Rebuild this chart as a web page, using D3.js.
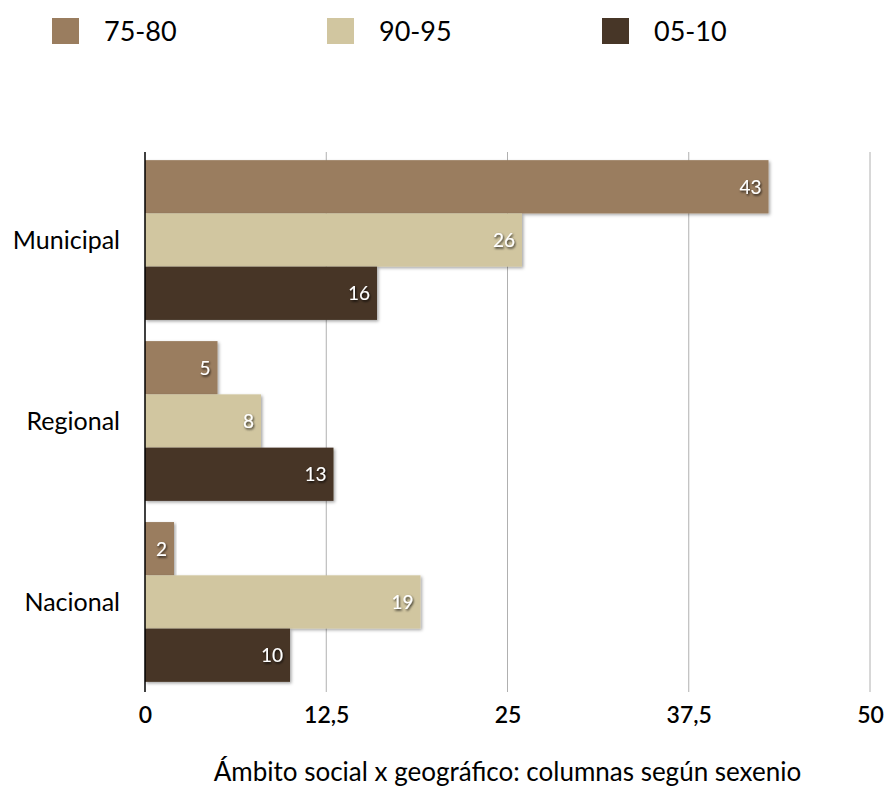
<!DOCTYPE html>
<html>
<head>
<meta charset="utf-8">
<script src="https://d3js.org/d3.v7.min.js"></script>
<style>
  body { margin: 0; background: #fff; }
  svg { display: block; font-family: "Lato", "Open Sans", sans-serif; }
</style>
</head>
<body>
<svg id="chart" width="888" height="786"></svg>
<script>
// Category rows, series keys and values
const categories = ["Municipal", "Regional", "Nacional"];
const seriesNames = ["75-80", "90-95", "05-10"];
const v7580 = [43, 5, 2];
const v9095 = [26, 8, 19];
const v0510 = [16, 13, 10];
const tickValues = [0, 12.5, 25, 37.5, 50];
const tickLabels = ["0", "12,5", "25", "37,5", "50"];
const axisTitle = "Ámbito social x geográfico: columnas según sexenio";
const colors = ["#9a7d5f", "#d1c6a0", "#473627"];

const seriesValues = [v7580, v9095, v0510];
const rows = categories.map((c, i) => ({
  category: c,
  values: seriesNames.map((s, j) => ({ series: s, value: seriesValues[j][i] }))
}));

const svg = d3.select("#chart");
const margin = { left: 145, right: 18, top: 152, bottom: 96 };
const W = 888, H = 786;

const x = d3.scaleLinear().domain([0, 50]).range([margin.left, W - margin.right]);
const y0 = d3.scaleBand().domain(categories).range([margin.top, H - margin.bottom]).paddingInner(0.117).paddingOuter(0.045);
const y1 = d3.scaleBand().domain(seriesNames).range([0, y0.bandwidth()]);
const color = d3.scaleOrdinal().domain(seriesNames).range(colors);

const defs = svg.append("defs");
const shadow = defs.append("filter").attr("id", "barShadow")
  .attr("x", "-5%").attr("y", "-10%").attr("width", "115%").attr("height", "130%");
shadow.append("feDropShadow").attr("dx", 1.5).attr("dy", 1.5)
  .attr("stdDeviation", 1.5).attr("flood-color", "#000").attr("flood-opacity", 0.35);
const tshadow = defs.append("filter").attr("id", "textShadow")
  .attr("x", "-20%").attr("y", "-20%").attr("width", "150%").attr("height", "150%");
tshadow.append("feDropShadow").attr("dx", 1).attr("dy", 1.5)
  .attr("stdDeviation", 1).attr("flood-color", "#000").attr("flood-opacity", 0.8);

// Vertical gridlines
svg.append("g").selectAll("line").data(tickValues.slice(1)).join("line")
  .attr("x1", d => x(d)).attr("x2", d => x(d))
  .attr("y1", margin.top).attr("y2", H - margin.bottom + 2)
  .attr("stroke", "#b0b0b0").attr("stroke-width", 1);

// Bars
const groups = svg.append("g").selectAll("g").data(rows).join("g")
  .attr("transform", d => `translate(0,${y0(d.category)})`);

groups.selectAll("rect").data(d => d.values).join("rect")
  .attr("x", x(0))
  .attr("y", d => y1(d.series))
  .attr("width", d => x(d.value) - x(0))
  .attr("height", y1.bandwidth())
  .attr("fill", d => color(d.series))
  .attr("filter", "url(#barShadow)");

groups.selectAll("text").data(d => d.values).join("text")
  .attr("x", d => x(d.value) - 7)
  .attr("y", d => y1(d.series) + y1.bandwidth() / 2)
  .attr("dy", "0.36em")
  .attr("text-anchor", "end")
  .attr("fill", "#fff")
  .attr("font-size", 19)
  .attr("filter", "url(#textShadow)")
  .text(d => d.value);

// Y axis line and category labels
svg.append("line")
  .attr("x1", x(0)).attr("x2", x(0))
  .attr("y1", margin.top).attr("y2", H - margin.bottom + 2)
  .attr("stroke", "#000").attr("stroke-width", 1.5);

svg.append("g").selectAll("text").data(categories).join("text")
  .attr("x", 120)
  .attr("y", d => y0(d) + y0.bandwidth() / 2)
  .attr("dy", "0.36em")
  .attr("text-anchor", "end")
  .attr("font-size", 25)
  .attr("fill", "#000")
  .text(d => d);

// X tick labels
const xAxis = d3.axisBottom(x).tickValues(tickValues).tickSize(0)
  .tickFormat((d, i) => tickLabels[i]);
const gx = svg.append("g").attr("transform", `translate(0,${H - margin.bottom + 14})`).call(xAxis);
gx.select(".domain").remove();
gx.selectAll("text").attr("font-size", 23).attr("font-weight", 600)
  .attr("fill", "#000").attr("font-family", "Lato, sans-serif");

// Axis title
svg.append("text")
  .attr("x", (x(0) + x(50)) / 2).attr("y", 781)
  .attr("text-anchor", "middle")
  .attr("font-size", 26).attr("fill", "#000")
  .text(axisTitle);

// Legend
const legendX = [52, 327, 602];
const legend = svg.append("g").selectAll("g").data(seriesNames).join("g")
  .attr("transform", (d, i) => `translate(${legendX[i]},18)`);
legend.append("rect").attr("width", 27).attr("height", 26).attr("fill", d => color(d));
legend.append("text").attr("x", 52).attr("y", 13).attr("dy", "0.36em")
  .attr("font-size", 27).attr("fill", "#000").text(d => d);
</script>
</body>
</html>
